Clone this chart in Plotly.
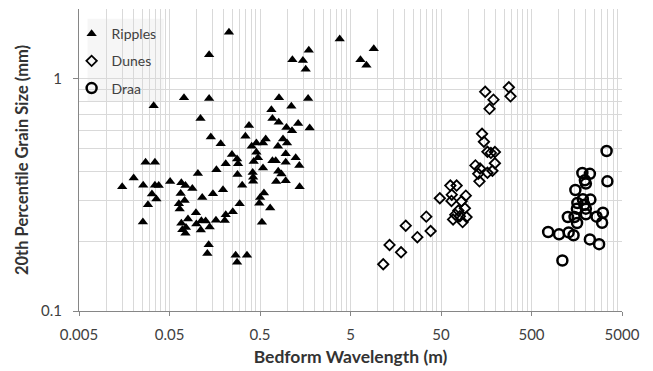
import plotly.graph_objects as go

ripples_x = [0.227, 0.137, 1.14, 1.49, 1.73, 1.60, 0.0334, 0.0723, 0.137, 0.811,
             1.70, 1.11, 0.668, 0.110, 0.686, 0.805, 0.378, 0.98, 1.32, 1.13,
             1.77, 0.143, 0.345, 0.184, 0.578, 0.540, 0.456, 0.405, 0.898, 0.994,
             0.79, 0.456, 0.245, 0.279, 0.286, 0.209, 0.426, 0.475, 0.686, 0.746,
             0.962, 1.24, 0.962, 1.36, 0.0272, 0.0345, 0.165, 0.103, 0.282, 0.415,
             0.540, 0.795, 0.862, 0.42, 0.42, 0.755, 0.962, 1.37, 0.318, 0.195,
             0.0201, 0.0150, 0.0256, 0.0345, 0.038, 0.0508, 0.0676, 0.075, 0.0894, 0.032,
             0.0358, 0.0289, 0.0254, 0.0664, 0.0735, 0.0635, 0.0648, 0.115, 0.151, 0.553,
             0.502, 0.491, 0.298, 0.648, 0.25, 0.209, 0.204, 0.163, 0.1255, 0.1125,
             0.098, 0.080, 0.0676, 0.076, 0.0693, 0.075, 0.099, 0.111, 0.139, 0.1355,
             0.131, 0.269, 0.279, 0.359, 0.525, 3.80, 6.44, 7.50, 9.04]
ripples_y = [1.59, 1.27, 1.21, 1.20, 1.33, 1.10, 0.767, 0.83, 0.823, 0.83,
             0.823, 0.762, 0.737, 0.675, 0.675, 0.650, 0.629, 0.618, 0.642, 0.598,
             0.615, 0.562, 0.566, 0.526, 0.551, 0.530, 0.530, 0.512, 0.551, 0.530,
             0.512, 0.483, 0.472, 0.452, 0.431, 0.431, 0.441, 0.457, 0.444, 0.444,
             0.476, 0.457, 0.437, 0.423, 0.437, 0.437, 0.406, 0.391, 0.387, 0.395,
             0.413, 0.400, 0.389, 0.377, 0.362, 0.361, 0.364, 0.343, 0.348, 0.333,
             0.374, 0.343, 0.348, 0.348, 0.347, 0.361, 0.357, 0.347, 0.337, 0.319,
             0.304, 0.287, 0.2415, 0.321, 0.299, 0.290, 0.275, 0.308, 0.320, 0.322,
             0.308, 0.291, 0.290, 0.278, 0.268, 0.260, 0.2455, 0.246, 0.244, 0.245,
             0.265, 0.249, 0.239, 0.229, 0.224, 0.216, 0.237, 0.2235, 0.230, 0.193,
             0.177, 0.174, 0.162, 0.174, 0.241, 1.487, 1.21, 1.145, 1.347]

dunes_x = [11.5, 13.5, 18.1, 20.4, 27.4, 34.4, 38.4, 48.5, 63.4, 74.4,
           65.8, 94, 65.3, 84.3, 91.7, 77.7, 72, 80.7, 95.7, 68,
           86.7, 120, 135, 197, 185, 163, 129, 133, 142, 149,
           163, 197, 178, 154, 190, 172, 281, 293]
dunes_y = [0.159, 0.1925, 0.179, 0.233, 0.208, 0.255, 0.221, 0.306, 0.347, 0.347,
           0.317, 0.314, 0.298, 0.297, 0.277, 0.271, 0.260, 0.256, 0.254, 0.248,
           0.2415, 0.424, 0.411, 0.433, 0.402, 0.394, 0.39, 0.362, 0.58, 0.536,
           0.485, 0.484, 0.48, 0.88, 0.814, 0.743, 0.92, 0.841]

draa_x = [3380, 3448, 1824, 2208, 1945, 1995, 1527, 1607, 1848, 2237,
          1919, 1587, 1995, 1995, 3075, 2618, 3013, 1261, 1496, 1594,
          764, 1008, 1287, 1458, 2208, 2792, 1097]
draa_y = [0.489, 0.362, 0.393, 0.39, 0.366, 0.354, 0.332, 0.292, 0.303, 0.302,
          0.287, 0.276, 0.276, 0.261, 0.265, 0.255, 0.240, 0.254, 0.254, 0.2395,
          0.219, 0.214, 0.218, 0.212, 0.2035, 0.194, 0.165]

x_ticks = [0.005, 0.05, 0.5, 5, 50, 500, 5000]
x_ticktext = ["0.005", "0.05", "0.5", "5", "50", "500", "5000"]
y_ticks = [0.1, 1]
y_ticktext = ["0.1", "1"]

# Excel-style minor gridlines (multiples of each major step)
x_minor = [m * k for m in x_ticks[:-1] for k in range(2, 10)]
y_minor = [0.1 * k for k in range(2, 10)] + [2]

FONT = "Lato"
GRID = "#d9d9d9"
AXIS = "#868686"

fig = go.Figure()
fig.add_trace(go.Scatter(x=ripples_x, y=ripples_y, mode="markers", name="Ripples",
                         legendgroup="a",
                         marker=dict(symbol="triangle-up", size=9, color="black")))
fig.add_trace(go.Scatter(x=dunes_x, y=dunes_y, mode="markers", name="Dunes",
                         legendgroup="b",
                         marker=dict(symbol="diamond-open", size=8, color="black",
                                     line=dict(width=1.8, color="black"))))
fig.add_trace(go.Scatter(x=draa_x, y=draa_y, mode="markers", name="Draa",
                         legendgroup="c",
                         marker=dict(symbol="circle-open", size=10, color="black",
                                     line=dict(width=2.5, color="black"))))

# legend background box (Excel-style, drawn over the gridlines)
fig.add_shape(type="rect", xref="paper", yref="paper",
              x0=0.0158, x1=0.156, y0=0.693, y1=0.968,
              fillcolor="#f6f6f6", line=dict(width=0), layer="between")

fig.update_layout(
    width=653, height=371,
    margin=dict(l=71, r=39, t=1, b=68),
    paper_bgcolor="white", plot_bgcolor="white",
    font=dict(family=FONT, color="#404040", size=13),
    legend=dict(x=-0.0136, y=0.97, xanchor="left", yanchor="top",
                bgcolor="rgba(0,0,0,0)", borderwidth=0,
                font=dict(family=FONT, size=14, color="#404040"),
                traceorder="grouped", tracegroupgap=6, itemwidth=30),
    xaxis=dict(type="log", range=[-2.30103, 3.699], tickmode="array",
               tickvals=x_ticks, ticktext=x_ticktext,
               showgrid=True, gridcolor=GRID, gridwidth=1,
               showline=True, linecolor=AXIS, linewidth=1,
               ticks="outside", ticklen=4, tickcolor=AXIS,
               tickfont=dict(size=15, color="#404040"),
               ticklabelstandoff=6,
               minor=dict(tickmode="array", tickvals=x_minor, showgrid=True,
                          gridcolor=GRID, gridwidth=1, ticks=""),
               title=dict(text="<b>Bedform Wavelength (m)</b>", standoff=8,
                          font=dict(size=17.5, color="#333333")),
               zeroline=False),
    yaxis=dict(type="log", range=[-1, 0.3011], tickmode="array",
               tickvals=y_ticks, ticktext=y_ticktext,
               showgrid=True, gridcolor=GRID, gridwidth=1,
               showline=True, linecolor=AXIS, linewidth=1,
               ticks="outside", ticklen=5, tickcolor=AXIS,
               tickfont=dict(size=15, color="#404040"),
               ticklabelstandoff=8,
               minor=dict(tickmode="array", tickvals=y_minor, showgrid=True,
                          gridcolor=GRID, gridwidth=1, ticks=""),
               title=dict(text="<b>20th Percentile Grain Size (mm)</b>", standoff=8,
                          font=dict(size=16.5, color="#333333")),
               zeroline=False),
)

fig.write_html("out.html")
